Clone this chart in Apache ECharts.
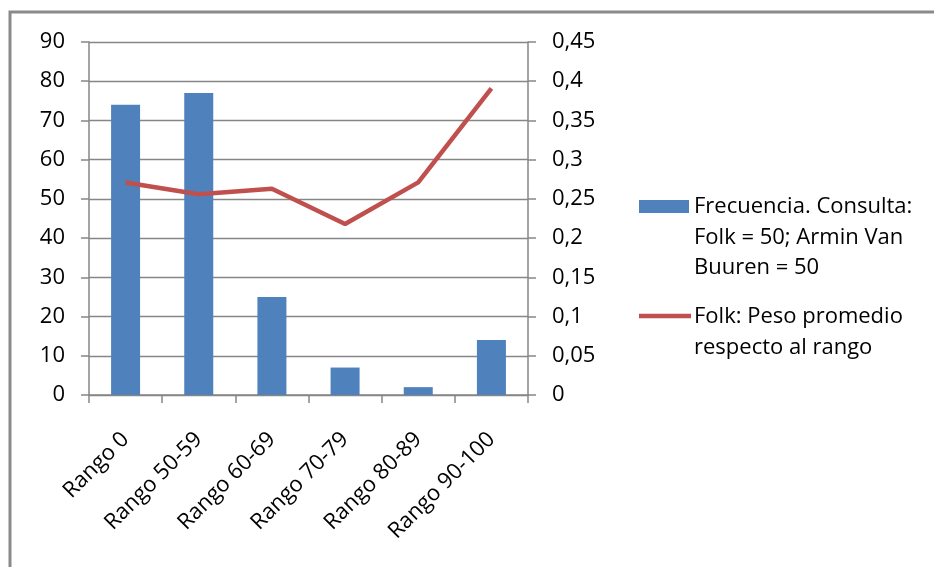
<!DOCTYPE html>
<html>
<head>
<meta charset="utf-8">
<script src="https://cdn.jsdelivr.net/npm/echarts@6/dist/echarts.min.js"></script>
<style>
  html, body { margin: 0; padding: 0; background: #fff; }
  #chart { width: 934px; height: 567px; }
</style>
</head>
<body>
<div id="chart"></div>
<script>
// Score ranges on the x axis
const categories = ['Rango 0', 'Rango 50-59', 'Rango 60-69', 'Rango 70-79', 'Rango 80-89', 'Rango 90-100'];
// Frequency of each range (left axis)
const frecuencia = [74, 77, 25, 7, 2, 14];
// Average Folk weight per range (right axis)
const pesoFolk = [0.271, 0.256, 0.263, 0.218, 0.271, 0.391];
// Series names shown in the legend (one array entry per line)
const nameBars = ['Frecuencia. Consulta:', 'Folk = 50; Armin Van', 'Buuren = 50'];
const nameLine = ['Folk: Peso promedio', 'respecto al rango'];

const FONT = '"Open Sans", Lato, sans-serif';
const FS = 22;
const GRID = '#868686';
const BLUE = '#4F81BD';
const RED = '#C0504D';

const chart = echarts.init(document.getElementById('chart'), null, { renderer: 'canvas' });

const legendLines = (lines, y0) => lines.map((t, i) => ({
  type: 'text',
  style: { x: 694, y: y0 + i * 30.5, text: t, font: FS + 'px ' + FONT, fill: '#000',
           textAlign: 'left', textVerticalAlign: 'middle' }
}));

chart.setOption({
  animation: false,
  backgroundColor: '#fff',
  grid: { left: 89, right: 406, top: 42, bottom: 172, containLabel: false },
  xAxis: {
    type: 'category',
    data: categories,
    boundaryGap: true,
    axisLine: { lineStyle: { color: GRID, width: 1.5 } },
    axisTick: { show: true, length: 8, lineStyle: { color: GRID, width: 1.5 } },
    axisLabel: { rotate: 45, margin: 41, interval: 0, color: '#000', fontFamily: FONT, fontSize: FS }
  },
  yAxis: [
    {
      type: 'value', min: 0, max: 90, interval: 10,
      axisLine: { show: true, lineStyle: { color: GRID, width: 1.5 } },
      axisTick: { show: true, length: 8, lineStyle: { color: GRID, width: 1.5 } },
      splitLine: { show: true, lineStyle: { color: GRID, width: 1.3 } },
      axisLabel: { margin: 24, color: '#000', fontFamily: FONT, fontSize: FS }
    },
    {
      type: 'value', min: 0, max: 0.45, interval: 0.05, position: 'right',
      axisLine: { show: true, lineStyle: { color: GRID, width: 1.5 } },
      axisTick: { show: true, length: 8, lineStyle: { color: GRID, width: 1.5 } },
      splitLine: { show: false },
      axisLabel: {
        margin: 24, color: '#000', fontFamily: FONT, fontSize: FS,
        formatter: v => String(+v.toFixed(2)).replace('.', ',')
      }
    }
  ],
  series: [
    {
      name: nameBars.join(' '), type: 'bar', yAxisIndex: 0,
      data: frecuencia, barWidth: 29,
      itemStyle: { color: BLUE }
    },
    {
      name: nameLine.join(' '), type: 'line', yAxisIndex: 1,
      data: pesoFolk, symbol: 'none',
      lineStyle: { color: RED, width: 4.5 }
    }
  ],
  graphic: [
    // outer chart frame
    { type: 'rect', shape: { x: 10, y: 12, width: 1000, height: 1000 },
      style: { fill: 'none', stroke: '#8a8a8a', lineWidth: 3 } },
    // legend keys
    { type: 'rect', shape: { x: 639, y: 200, width: 50, height: 13 }, style: { fill: BLUE } },
    { type: 'line', shape: { x1: 639, y1: 316, x2: 691, y2: 316 }, style: { stroke: RED, lineWidth: 4.5 } },
    ...legendLines(nameBars, 207),
    ...legendLines(nameLine, 317)
  ]
});
</script>
</body>
</html>
